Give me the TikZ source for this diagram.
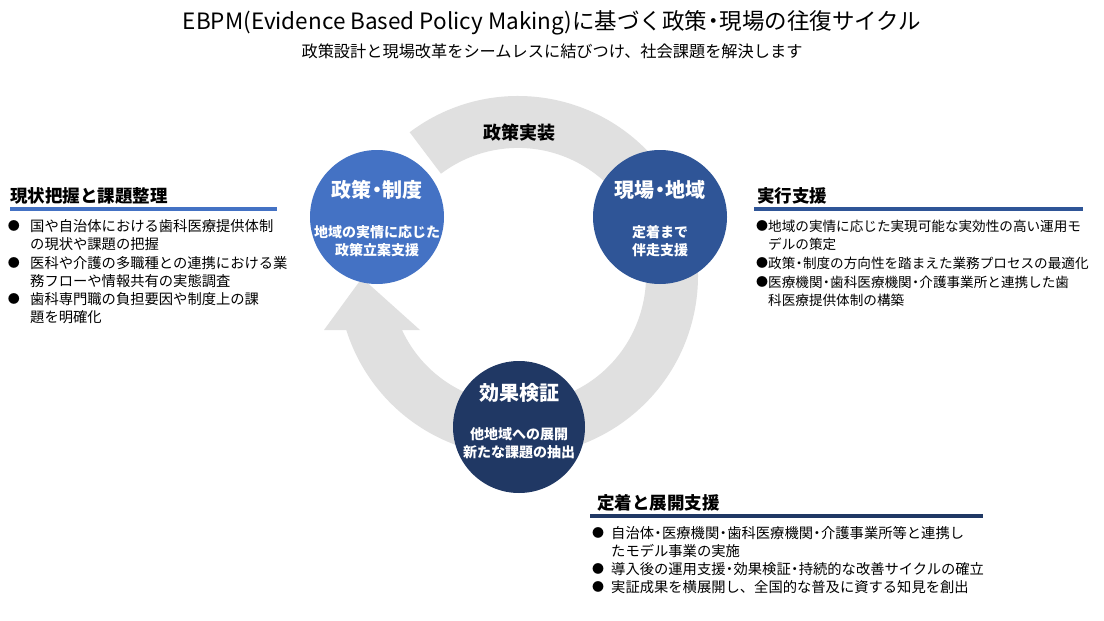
\documentclass[tikz,border=0pt]{standalone}
\usepackage{fontspec}
\setmainfont{Noto Sans CJK JP}
\newcommand\nd{\kern-0.22em・\kern-0.22em}
\definecolor{ringgray}{HTML}{E0E0E0}
\definecolor{blueA}{HTML}{4472C4}
\definecolor{blueB}{HTML}{2F5597}
\definecolor{blueC}{HTML}{203864}
\tikzset{
  txt/.style={inner sep=0pt, anchor=west, font=\fontsize{14.3}{16}\selectfont},
  rtxt/.style={inner sep=0pt, anchor=west, font=\fontsize{13.6}{16}\selectfont},
  bul/.style={inner sep=0pt, font=\fontsize{12}{14}\selectfont},
  hd/.style={inner sep=0pt, anchor=west, font=\bfseries\fontsize{17.5}{20}\selectfont},
  ctitle/.style={inner sep=0pt, text=white, font=\bfseries\fontsize{20}{24}\selectfont},
  csub/.style={inner sep=0pt, text=white, font=\bfseries\fontsize{14}{16}\selectfont},
  bigcirc/.style={circle, inner sep=0pt, minimum size=134pt},
  bar/.style={line width=3.2pt},
}
\begin{document}
\begin{tikzpicture}[x=1pt,y=1pt]
\fill[white] (0,0) rectangle (1104,-621);
\useasboundingbox (0,0) rectangle (1104,-621);

% title
\node[inner sep=0pt, font=\fontsize{22.5}{26}\selectfont] (title) at (552,-23) {EBPM(Evidence Based Policy Making)に基づく政策\nd 現場の往復サイクル};
\node[inner sep=0pt, font=\fontsize{16.2}{19}\selectfont] (subtitle) at (552,-51) {政策設計と現場改革をシームレスに結びつけ、社会課題を解決します};

% ring with arrow
\coordinate (rc) at (518,-276);
\fill[ringgray] ([shift={(127:180)}]rc) arc[start angle=127, end angle=-162.5, radius=180]
  -- (324,-330) -- (362,-278) -- (420,-330) -- (402,-330)
  arc[start angle=-155, end angle=127, radius=128] -- cycle;

\node[font=\bfseries\fontsize{18}{21}\selectfont, inner sep=0pt] (impl) at (519,-133) {政策実装};

% circles
\node[bigcirc, fill=blueA] (policy) at (377,-217) {};
\node[bigcirc, fill=blueB] (field) at (660,-217) {};
\node[bigcirc, fill=blueC, minimum size=132pt] (effect) at (519,-427) {};

\node[ctitle] (policyT) at (377,-190) {政策\nd 制度};
\node[csub] (policyS1) at (377,-232) {地域の実情に応じた};
\node[csub] (policyS2) at (377,-250) {政策立案支援};

\node[ctitle] (fieldT) at (660,-190) {現場\nd 地域};
\node[csub] (fieldS1) at (660,-232) {定着まで};
\node[csub] (fieldS2) at (660,-250) {伴走支援};

\node[ctitle] (effectT) at (519,-393) {効果検証};
\node[csub] (effectS1) at (519,-434) {他地域への展開};
\node[csub] (effectS2) at (519,-452) {新たな課題の抽出};

% left block
\node[hd] (lh) at (10,-196) {現状把握と課題整理};
\draw[bar, blueA] (10,-209) -- (277,-209);
\node[bul] (lb1) at (14,-226) {●};
\node[txt] (l1) at (30,-226) {国や自治体における歯科医療提供体制};
\node[txt] (l2) at (30,-244) {の現状や課題の把握};
\node[bul] (lb2) at (14,-263) {●};
\node[txt] (l3) at (30,-263) {医科や介護の多職種との連携における業};
\node[txt] (l4) at (30,-281) {務フローや情報共有の実態調査};
\node[bul] (lb3) at (14,-299) {●};
\node[txt] (l5) at (30,-299) {歯科専門職の負担要因や制度上の課};
\node[txt] (l6) at (30,-317) {題を明確化};

% right block
\node[hd] (rh) at (757,-196) {実行支援};
\draw[bar, blueB] (754,-209) -- (1083,-209);
\node[bul] (rb1) at (762,-226) {●};
\node[rtxt] (r1) at (768,-226) {地域の実情に応じた実現可能な実効性の高い運用モ};
\node[rtxt] (r2) at (768,-244) {デルの策定};
\node[bul] (rb2) at (762,-263) {●};
\node[rtxt] (r3) at (768,-263) {政策\nd 制度の方向性を踏まえた業務プロセスの最適化};
\node[bul] (rb3) at (762,-282) {●};
\node[rtxt] (r4) at (768,-282) {医療機関\nd 歯科医療機関\nd 介護事業所と連携した歯};
\node[rtxt] (r5) at (768,-300) {科医療提供体制の構築};

% bottom block
\node[hd] (bh) at (597,-503) {定着と展開支援};
\draw[bar, blueC] (590,-516) -- (983,-516);
\node[bul] (bb1) at (598,-533) {●};
\node[txt] (b1) at (611,-533) {自治体\nd 医療機関\nd 歯科医療機関\nd 介護事業所等と連携し};
\node[txt] (b2) at (611,-551) {たモデル事業の実施};
\node[bul] (bb2) at (598,-569) {●};
\node[txt] (b3) at (611,-569) {導入後の運用支援\nd 効果検証\nd 持続的な改善サイクルの確立};
\node[bul] (bb3) at (598,-587) {●};
\node[txt] (b4) at (611,-587) {実証成果を横展開し、全国的な普及に資する知見を創出};
\end{tikzpicture}
\end{document}
